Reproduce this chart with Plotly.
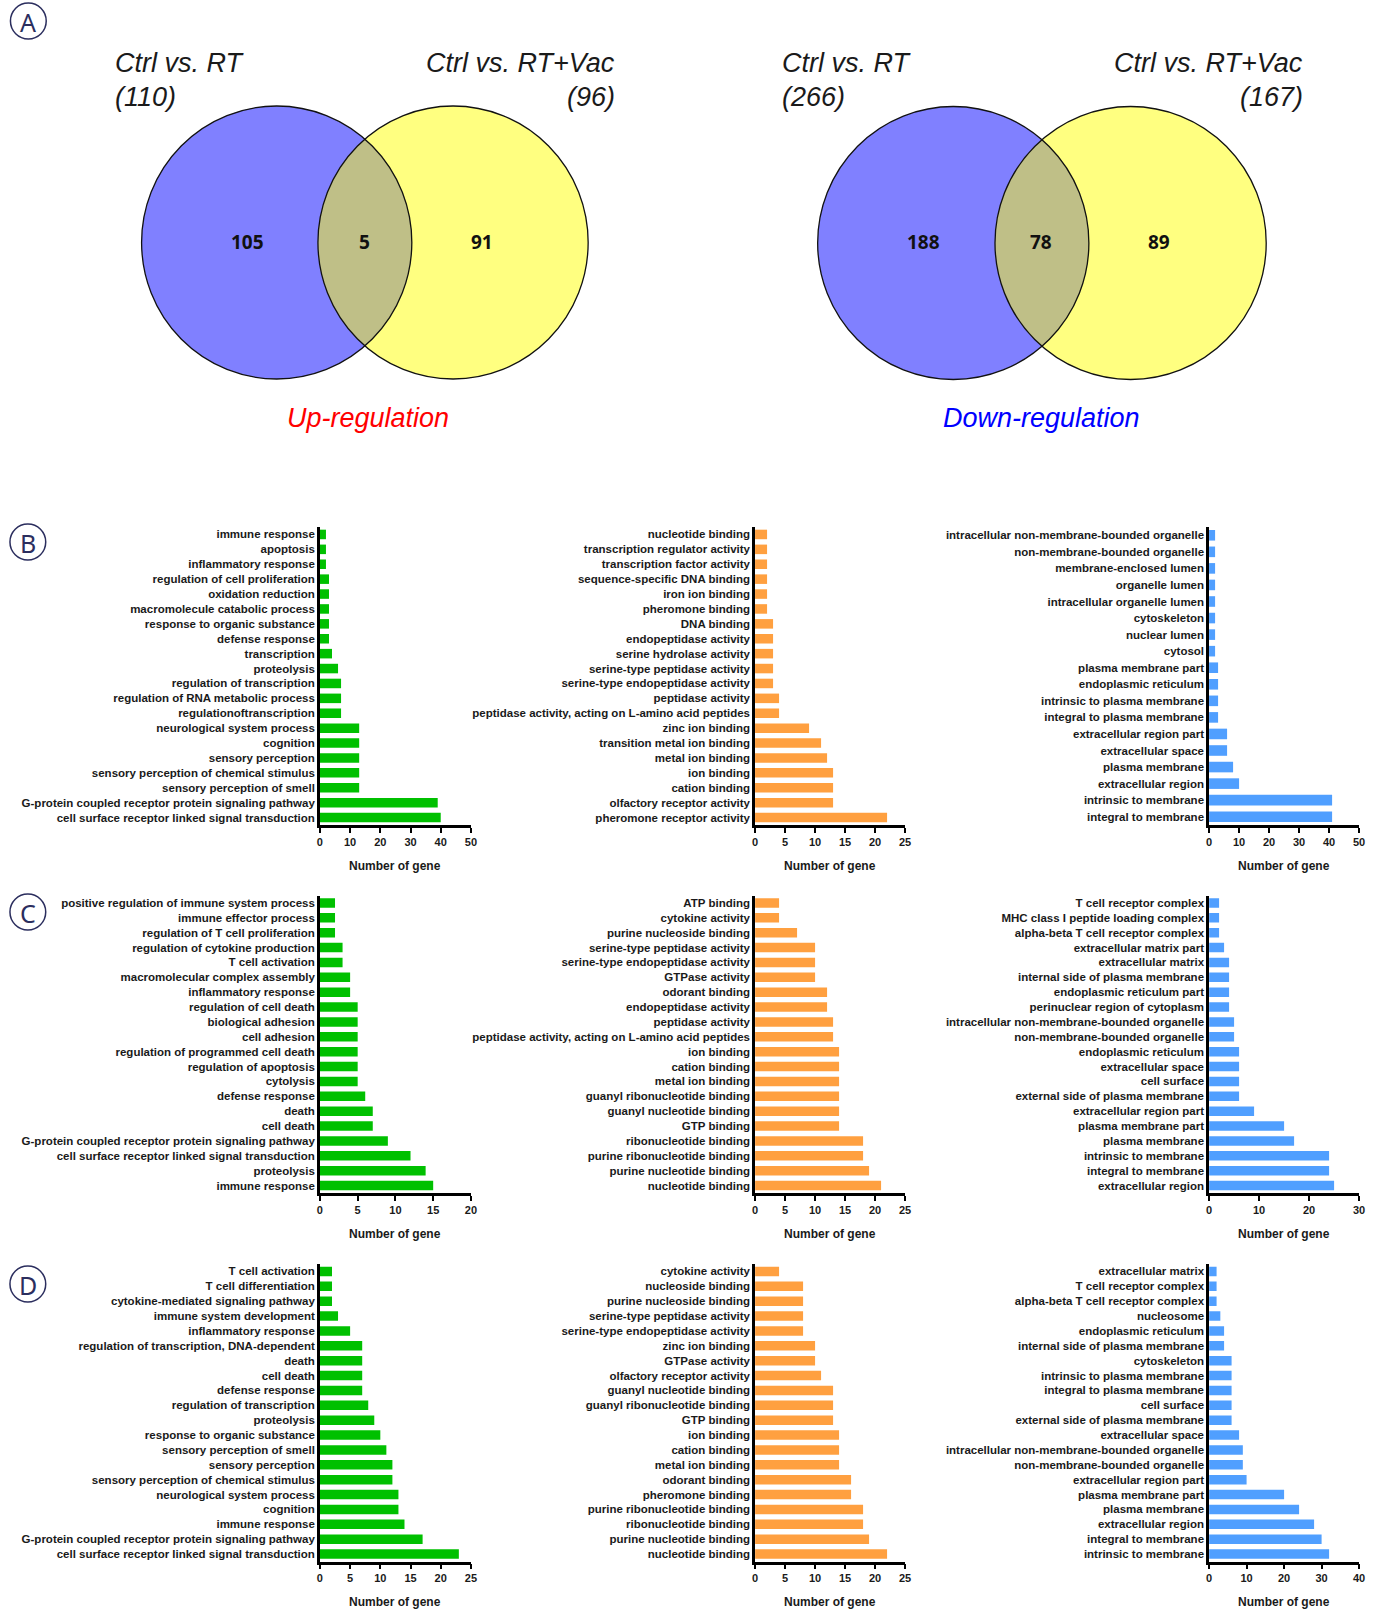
import numpy as np
import plotly.graph_objects as go

W, H = 1381, 1613

# ---------------- Venn data ----------------
venn_up_counts = [105, 5, 91]          # only RT, both, only RT+Vac
venn_up_totals = [110, 96]
venn_down_counts = [188, 78, 89]
venn_down_totals = [266, 167]
venn_set_names = ["Ctrl vs. RT", "Ctrl vs. RT+Vac"]

# ---------------- Row B ----------------
b_bp_labels = ["immune response", "apoptosis", "inflammatory response", "regulation of cell proliferation",
               "oxidation reduction", "macromolecule catabolic process", "response to organic substance",
               "defense response", "transcription", "proteolysis", "regulation of transcription",
               "regulation of RNA metabolic process", "regulationoftranscription", "neurological system process",
               "cognition", "sensory perception", "sensory perception of chemical stimulus",
               "sensory perception of smell", "G-protein coupled receptor protein signaling pathway",
               "cell surface receptor linked signal transduction"]
b_bp_values = [2, 2, 2, 3, 3, 3, 3, 3, 4, 6, 7, 7, 7, 13, 13, 13, 13, 13, 39, 40]

b_mf_labels = ["nucleotide binding", "transcription regulator activity", "transcription factor activity",
               "sequence-specific DNA binding", "iron ion binding", "pheromone binding", "DNA binding",
               "endopeptidase activity", "serine hydrolase activity", "serine-type peptidase activity",
               "serine-type endopeptidase activity", "peptidase activity",
               "peptidase activity, acting on L-amino acid peptides", "zinc ion binding",
               "transition metal ion binding", "metal ion binding", "ion binding", "cation binding",
               "olfactory receptor activity", "pheromone receptor activity"]
b_mf_values = [2, 2, 2, 2, 2, 2, 3, 3, 3, 3, 3, 4, 4, 9, 11, 12, 13, 13, 13, 22]

b_cc_labels = ["intracellular non-membrane-bounded organelle", "non-membrane-bounded organelle",
               "membrane-enclosed lumen", "organelle lumen", "intracellular organelle lumen", "cytoskeleton",
               "nuclear lumen", "cytosol", "plasma membrane part", "endoplasmic reticulum",
               "intrinsic to plasma membrane", "integral to plasma membrane", "extracellular region part",
               "extracellular space", "plasma membrane", "extracellular region", "intrinsic to membrane",
               "integral to membrane"]
b_cc_values = [2, 2, 2, 2, 2, 2, 2, 2, 3, 3, 3, 3, 6, 6, 8, 10, 41, 41]

# ---------------- Row C ----------------
c_bp_labels = ["positive regulation of immune system process", "immune effector process",
               "regulation of T cell proliferation", "regulation of cytokine production", "T cell activation",
               "macromolecular complex assembly", "inflammatory response", "regulation of cell death",
               "biological adhesion", "cell adhesion", "regulation of programmed cell death",
               "regulation of apoptosis", "cytolysis", "defense response", "death", "cell death",
               "G-protein coupled receptor protein signaling pathway",
               "cell surface receptor linked signal transduction", "proteolysis", "immune response"]
c_bp_values = [2, 2, 2, 3, 3, 4, 4, 5, 5, 5, 5, 5, 5, 6, 7, 7, 9, 12, 14, 15]

c_mf_labels = ["ATP binding", "cytokine activity", "purine nucleoside binding", "serine-type peptidase activity",
               "serine-type endopeptidase activity", "GTPase activity", "odorant binding",
               "endopeptidase activity", "peptidase activity",
               "peptidase activity, acting on L-amino acid peptides", "ion binding", "cation binding",
               "metal ion binding", "guanyl ribonucleotide binding", "guanyl nucleotide binding", "GTP binding",
               "ribonucleotide binding", "purine ribonucleotide binding", "purine nucleotide binding",
               "nucleotide binding"]
c_mf_values = [4, 4, 7, 10, 10, 10, 12, 12, 13, 13, 14, 14, 14, 14, 14, 14, 18, 18, 19, 21]

c_cc_labels = ["T cell receptor complex", "MHC class I peptide loading complex",
               "alpha-beta T cell receptor complex", "extracellular matrix part", "extracellular matrix",
               "internal side of plasma membrane", "endoplasmic reticulum part",
               "perinuclear region of cytoplasm", "intracellular non-membrane-bounded organelle",
               "non-membrane-bounded organelle", "endoplasmic reticulum", "extracellular space", "cell surface",
               "external side of plasma membrane", "extracellular region part", "plasma membrane part",
               "plasma membrane", "intrinsic to membrane", "integral to membrane", "extracellular region"]
c_cc_values = [2, 2, 2, 3, 4, 4, 4, 4, 5, 5, 6, 6, 6, 6, 9, 15, 17, 24, 24, 25]

# ---------------- Row D ----------------
d_bp_labels = ["T cell activation", "T cell differentiation", "cytokine-mediated signaling pathway",
               "immune system development", "inflammatory response",
               "regulation of transcription, DNA-dependent", "death", "cell death", "defense response",
               "regulation of transcription", "proteolysis", "response to organic substance",
               "sensory perception of smell", "sensory perception", "sensory perception of chemical stimulus",
               "neurological system process", "cognition", "immune response",
               "G-protein coupled receptor protein signaling pathway",
               "cell surface receptor linked signal transduction"]
d_bp_values = [2, 2, 2, 3, 5, 7, 7, 7, 7, 8, 9, 10, 11, 12, 12, 13, 13, 14, 17, 23]

d_mf_labels = ["cytokine activity", "nucleoside binding", "purine nucleoside binding",
               "serine-type peptidase activity", "serine-type endopeptidase activity", "zinc ion binding",
               "GTPase activity", "olfactory receptor activity", "guanyl nucleotide binding",
               "guanyl ribonucleotide binding", "GTP binding", "ion binding", "cation binding",
               "metal ion binding", "odorant binding", "pheromone binding", "purine ribonucleotide binding",
               "ribonucleotide binding", "purine nucleotide binding", "nucleotide binding"]
d_mf_values = [4, 8, 8, 8, 8, 10, 10, 11, 13, 13, 13, 14, 14, 14, 16, 16, 18, 18, 19, 22]

d_cc_labels = ["extracellular matrix", "T cell receptor complex", "alpha-beta T cell receptor complex",
               "nucleosome", "endoplasmic reticulum", "internal side of plasma membrane", "cytoskeleton",
               "intrinsic to plasma membrane", "integral to plasma membrane", "cell surface",
               "external side of plasma membrane", "extracellular space",
               "intracellular non-membrane-bounded organelle", "non-membrane-bounded organelle",
               "extracellular region part", "plasma membrane part", "plasma membrane", "extracellular region",
               "integral to membrane", "intrinsic to membrane"]
d_cc_values = [2, 2, 2, 3, 4, 4, 6, 6, 6, 6, 6, 8, 9, 9, 10, 20, 24, 28, 30, 32]

x_axis_max = [[50, 25, 50], [20, 25, 30], [25, 25, 40]]
x_axis_dtick = [[10, 5, 10], [5, 5, 10], [5, 5, 10]]
axis_title = "Number of gene"
panel_letters = ["A", "B", "C", "D"]

# ---------------- styling ----------------
col_colors = ["#00c000", "#ffa040", "#509fff"]
col_px = [(319, 471), (757, 908), (1214, 1365)]
row_px = [(527, 825), (895.5, 1193), (1264, 1561.5)]
title_y = [866, 1234, 1602]
FONT = "Liberation Sans"

panels = [
    [(b_bp_labels, b_bp_values), (b_mf_labels, b_mf_values), (b_cc_labels, b_cc_values)],
    [(c_bp_labels, c_bp_values), (c_mf_labels, c_mf_values), (c_cc_labels, c_cc_values)],
    [(d_bp_labels, d_bp_values), (d_mf_labels, d_mf_values), (d_cc_labels, d_cc_values)],
]

fig = go.Figure()
layout = dict(
    width=W, height=H, margin=dict(l=0, r=0, t=0, b=0),
    paper_bgcolor="white", plot_bgcolor="rgba(0,0,0,0)",
    showlegend=False, bargap=0.36,
    font=dict(family=FONT, color="#1a1a1a"),
)

def px_x(p):
    return p / W

def px_y(p):
    return 1 - p / H

k = 0
for r in range(3):
    for c in range(3):
        k += 1
        labels, values = panels[r][c]
        fig.add_trace(go.Bar(
            x=values, y=labels, orientation="h",
            marker=dict(color=col_colors[c], line=dict(width=0)),
            xaxis=f"x{k}", yaxis=f"y{k}", hoverinfo="x+y",
        ))
        n = len(labels)
        x0, x1 = col_px[c]
        t, b = row_px[r]
        layout[f"xaxis{k}"] = dict(
            domain=[px_x(x0), px_x(x1)], anchor=f"y{k}", range=[0, x_axis_max[r][c]],
            dtick=x_axis_dtick[r][c], tick0=0, showgrid=False, zeroline=False,
            showline=True, linecolor="black", linewidth=2.5,
            ticks="outside", ticklen=5, tickwidth=2, tickcolor="black",
            tickfont=dict(family=FONT, size=11, color="#1a1a1a", weight="bold"),
            fixedrange=True,
        )
        layout[f"yaxis{k}"] = dict(
            domain=[px_y(b), px_y(t)], anchor=f"x{k}", type="category",
            range=[n - 0.5, -0.5], showgrid=False, zeroline=False,
            showline=True, linecolor="black", linewidth=2.5, ticks="",
            tickfont=dict(family=FONT, size=11.5, color="#1a1a1a", weight="bold"),
            fixedrange=True,
        )

# full-page pixel axis for Venn diagrams and decorations
layout["xaxis10"] = dict(domain=[0, 1], range=[0, W], visible=False, fixedrange=True, anchor="y10")
layout["yaxis10"] = dict(domain=[0, 1], range=[H, 0], visible=False, fixedrange=True, anchor="x10")
fig.add_trace(go.Scatter(x=[0], y=[0], mode="markers", marker=dict(opacity=0),
                         xaxis="x10", yaxis="y10", hoverinfo="skip"))

shapes = []
annotations = []

def lens_path(c1, c2, cy, rx, ry):
    # right arc of the left ellipse, then left arc of the right ellipse
    xm = (c1 + c2) / 2
    th = np.arccos((xm - c1) / rx)
    pts = [(c1 + rx * np.cos(a), cy + ry * np.sin(a)) for a in np.linspace(-th, th, 60)]
    pts += [(c2 + rx * np.cos(a), cy + ry * np.sin(a)) for a in np.linspace(np.pi - th, np.pi + th, 60)]
    return "M " + " L ".join(f"{x:.2f},{y:.2f}" for x, y in pts) + " Z"

venns = [
    dict(c1=275.5, c2=453.0, cy=242.5, rx=136, ry=136.5, counts=venn_up_counts, totals=venn_up_totals,
         nx=[246, 364, 482], left_x=111, right_x=618, cap="Up-regulation", cap_x=367, cap_color="#ff0000"),
    dict(c1=956.5, c2=1135.0, cy=243.0, rx=136.5, ry=136.5, counts=venn_down_counts, totals=venn_down_totals,
         nx=[927, 1045, 1164], left_x=782, right_x=1311, cap="Down-regulation", cap_x=1045, cap_color="#0000ff"),
]
for v in venns:
    for cx, col in [(v["c1"], "#8080ff"), (v["c2"], "#ffff80")]:
        shapes.append(dict(type="circle", xref="x10", yref="y10", x0=cx - v["rx"], x1=cx + v["rx"],
                           y0=v["cy"] - v["ry"], y1=v["cy"] + v["ry"], fillcolor=col,
                           line=dict(width=0), layer="above"))
    shapes.append(dict(type="path", xref="x10", yref="y10",
                       path=lens_path(v["c1"], v["c2"], v["cy"], v["rx"], v["ry"]),
                       fillcolor="#bfbf87", line=dict(width=0), layer="above"))
    for cx in (v["c1"], v["c2"]):
        shapes.append(dict(type="circle", xref="x10", yref="y10", x0=cx - v["rx"], x1=cx + v["rx"],
                           y0=v["cy"] - v["ry"], y1=v["cy"] + v["ry"], fillcolor="rgba(0,0,0,0)",
                           line=dict(width=1.3, color="#111111"), layer="above"))
    for x, cnt in zip(v["nx"], v["counts"]):
        annotations.append(dict(xref="x10", yref="y10", x=x, y=242, text=str(cnt), showarrow=False,
                                xanchor="center", yanchor="middle",
                                font=dict(family="Noto Sans", size=19, color="#111111", weight="bold")))
    hfont = dict(family=FONT, size=27, color="#1a1a1a", style="italic")
    annotations.append(dict(xref="x10", yref="y10", x=v["left_x"], y=63, text=venn_set_names[0],
                            showarrow=False, xanchor="left", yanchor="middle", font=hfont))
    annotations.append(dict(xref="x10", yref="y10", x=v["left_x"], y=97, text=f"({v['totals'][0]})",
                            showarrow=False, xanchor="left", yanchor="middle", font=hfont))
    annotations.append(dict(xref="x10", yref="y10", x=v["right_x"], y=63, text=venn_set_names[1],
                            showarrow=False, xanchor="right", yanchor="middle", font=hfont))
    annotations.append(dict(xref="x10", yref="y10", x=v["right_x"], y=97, text=f"({v['totals'][1]})",
                            showarrow=False, xanchor="right", yanchor="middle", font=hfont))
    annotations.append(dict(xref="x10", yref="y10", x=v["cap_x"], y=418, text=v["cap"], showarrow=False,
                            xanchor="center", yanchor="middle",
                            font=dict(family=FONT, size=27, color=v["cap_color"], style="italic")))

# panel letters in circles
letter_pos = [(25.5, 21), (25, 542), (25, 912), (25, 1284)]
for letter, (lx, ly) in zip(panel_letters, letter_pos):
    shapes.append(dict(type="circle", xref="x10", yref="y10", x0=lx - 18, x1=lx + 18, y0=ly - 18, y1=ly + 18,
                       fillcolor="rgba(0,0,0,0)", line=dict(width=1.5, color="#2b2e5e"), layer="above"))
    annotations.append(dict(xref="x10", yref="y10", x=lx, y=ly + 1, text=letter, showarrow=False,
                            xanchor="center", yanchor="middle",
                            font=dict(family="Noto Sans", size=25, color="#2b2e5e")))

# axis titles
for r in range(3):
    for c in range(3):
        annotations.append(dict(xref="x10", yref="y10", x=(col_px[c][0] + col_px[c][1]) / 2, y=title_y[r],
                                text=axis_title, showarrow=False, xanchor="center", yanchor="middle",
                                font=dict(family=FONT, size=12, color="#1a1a1a", weight="bold")))

layout["shapes"] = shapes
layout["annotations"] = annotations
fig.update_layout(**layout)
fig.write_html(
    "out.html",
    config={"displayModeBar": False, "staticPlot": False},
    post_script="document.body.style.margin='0';document.body.style.padding='0';"
                "document.body.style.overflow='hidden';",
)
